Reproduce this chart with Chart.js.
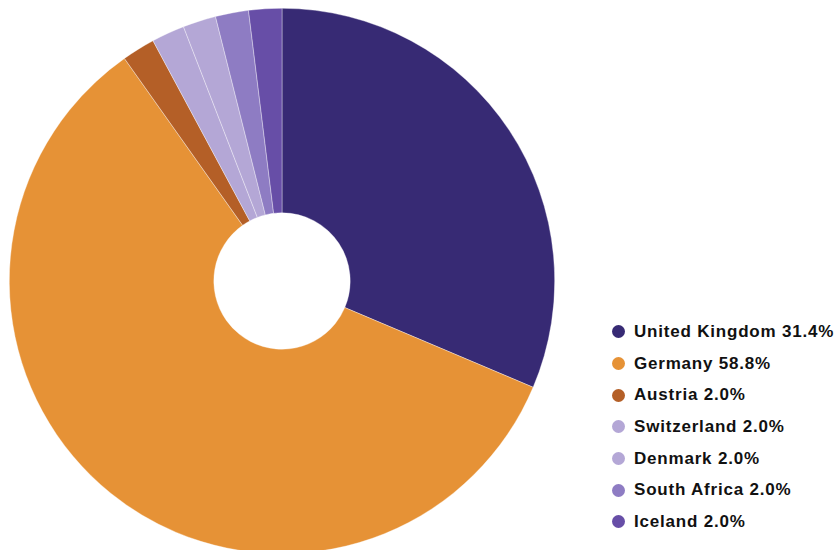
<!DOCTYPE html>
<html>
<head>
<meta charset="utf-8">
<script src="https://cdn.jsdelivr.net/npm/chart.js@4"></script>
<style>
  html, body { margin: 0; padding: 0; background: #fff; overflow: hidden; }
  body { width: 834px; height: 550px; position: relative; font-family: "Liberation Sans", Arial, sans-serif; }
  #wrap { position: absolute; left: 9px; top: 8px; width: 546px; height: 546px; }
  #legend { position: absolute; left: 612px; top: 316px; list-style: none; margin: 0; padding: 0; }
  #legend li { height: 31.7px; display: flex; align-items: center; font-weight: bold; font-size: 17px; letter-spacing: 0.8px; color: #111; white-space: nowrap; }
  #legend .dot { width: 13px; height: 13px; border-radius: 50%; margin-right: 9px; }
</style>
</head>
<body>
<div id="wrap"><canvas id="pie"></canvas></div>
<ul id="legend"></ul>
<script>
// counts per country
const countries = ["United Kingdom", "Germany", "Austria", "Switzerland", "Denmark", "South Africa", "Iceland"];
const counts = [16, 30, 1, 1, 1, 1, 1];
const colors = ["#372a74", "#e69236", "#b45f27", "#b4a7d6", "#b4a7d6", "#8e7cc3", "#674ea7"];

const total = counts.reduce((a, b) => a + b, 0);

new Chart(document.getElementById("pie"), {
  type: "doughnut",
  data: {
    labels: countries,
    datasets: [{
      data: counts,
      backgroundColor: colors,
      borderColor: "rgba(255,255,255,0.6)",
      borderWidth: 0.6,
      hoverOffset: 0
    }]
  },
  options: {
    responsive: true,
    maintainAspectRatio: false,
    animation: false,
    cutout: "25%",
    layout: { padding: 0 },
    plugins: {
      legend: { display: false },
      tooltip: { enabled: false }
    }
  }
});

// === Legend ===
const legend = document.getElementById("legend");
countries.forEach((name, i) => {
  const li = document.createElement("li");
  const pct = (counts[i] / total * 100).toFixed(1);
  li.innerHTML = `<span class="dot" style="background:${colors[i]}"></span>${name} ${pct}%`;
  legend.appendChild(li);
});
</script>
</body>
</html>
